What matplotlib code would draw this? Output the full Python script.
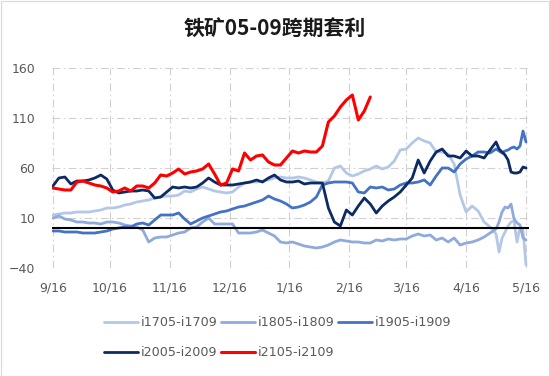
import matplotlib
matplotlib.use("Agg")
import matplotlib.pyplot as plt
from matplotlib.patches import Rectangle

# ---- data ----
title = "铁矿05-09跨期套利"
tick_pos = [0, 19, 39, 59, 79, 99, 118, 138, 158]
tick_labels = ["9/16", "10/16", "11/16", "12/16", "1/16", "2/16", "3/16", "4/16", "5/16"]
y_ticks = [-40, 10, 60, 110, 160]
days = list(range(0, 148, 2)) + list(range(148, 159))

names = ["i1705-i1709", "i1805-i1809", "i1905-i1909", "i2005-i2009", "i2105-i2109"]

i1705 = [13, 14, 15, 15, 16, 16, 16, 17, 18, 20, 20, 21, 23, 24, 26, 27, 28, 30, 31, 32,
         32, 33, 37, 36, 39, 41, 39, 37, 36, 35, 36, 41, 45, 46, 46, 47, 48, 50, 51, 50,
         50, 51, 50, 48, 46, 45, 47, 60, 62, 55, 52, 54, 57, 59, 62, 59, 61, 67, 78, 79,
         85, 90, 87, 85, 76, 76, 74, 64, 33, 16, 22, 17, 6, 1,
         -6, -24, -10, -4, 2, 6, 7, -14, 1, -2, -37]
i1805 = [10, 12, 9, 8, 6, 6, 5, 5, 4, 6, 6, 5, 3, 2, 1, -2, -14, -10, -9, -9,
         -7, -5, -4, 0, 1, 6, 10, 4, 4, 4, 4, -5, -5, -5, -4, -2, -5, -8, -14, -15,
         -14, -16, -18, -19, -20, -19, -17, -14, -12, -13, -14, -14, -15, -15, -12, -13, -11, -12, -11, -11,
         -8, -6, -8, -7, -12, -10, -14, -10, -17, -15, -14, -12, -9, -5,
         -1, 6, 16, 21, 20, 24, 9, 5, 3, -10, -12]
i1905 = [-3, -3, -4, -4, -4, -5, -5, -5, -4, -3, -1, 0, 1, 1, 4, 5, 3, 8, 13, 13,
         13, 15, 9, 4, 7, 10, 12, 14, 16, 17, 19, 21, 22, 24, 26, 28, 32, 29, 27, 24,
         20, 21, 23, 26, 31, 43, 45, 46, 46, 46, 45, 36, 35, 41, 40, 41, 38, 39, 43, 45,
         45, 46, 48, 43, 52, 60, 60, 56, 64, 69, 72, 76, 76, 75,
         79, 77, 75, 77, 78, 80, 81, 79, 82, 97, 86]
i2005 = [42, 50, 51, 44, 47, 47, 48, 50, 53, 49, 38, 35, 36, 37, 37, 38, 37, 30, 31, 36,
         41, 40, 41, 40, 41, 45, 50, 46, 43, 43, 43, 44, 45, 46, 48, 46, 50, 53, 48, 46,
         46, 47, 44, 45, 45, 45, 20, 6, 2, 18, 13, 22, 30, 24, 15, 22, 27, 31, 36, 43,
         50, 68, 55, 67, 76, 79, 72, 72, 70, 77, 72, 72, 70, 78,
         86, 79, 76, 73, 68, 56, 55, 55, 56, 61, 60]
i2105 = [40, 39, 38, 38, 46, 47, 45, 43, 42, 40, 36, 37, 40, 37, 42, 42, 40, 45, 53, 52,
         55, 59, 54, 56, 57, 59, 64, 54, 43, 45, 59, 57, 75, 68, 72, 73, 66, 63, 63, 70,
         77, 75, 77, 76, 76, 82, 106, 112, 121, 128, 133, 108, 117, 131]

series = [i1705, i1805, i1905, i2005, i2105]
colors = ["#B4C7E7", "#8FAADC", "#4472C4", "#0C2A63", "#FF0000"]
widths = [2.0, 2.0, 2.0, 2.0, 2.2]

# ---- figure ----
plt.rcParams['font.family'] = ['Noto Sans CJK SC', 'DejaVu Sans']
W, H = 550, 376
fig = plt.figure(figsize=(W / 100, H / 100), dpi=100)
fig.patches.append(Rectangle((0.5 / W, 0.5 / H), 1 - 1.5 / W, 1 - 1.5 / H, transform=fig.transFigure,
                             fill=False, edgecolor="#D9D9D9", linewidth=0.8))

left, right, top, bottom = 52, 529, 68, 268
ax = fig.add_axes([left / W, 1 - bottom / H, (right - left) / W, (bottom - top) / H])

grid_kw = dict(color="#D0D0D0", linewidth=0.8, dashes=(7, 3, 1.5, 3))
for yv in y_ticks:
    ax.axhline(yv, zorder=0, **grid_kw)
for xv in tick_pos:
    ax.axvline(xv, zorder=0, **grid_kw)

lines = []
for vals, name, c, lw in zip(series, names, colors, widths):
    ln, = ax.plot(days[:len(vals)], vals, color=c, linewidth=lw, label=name,
                  solid_joinstyle="round", solid_capstyle="round")
    lines.append(ln)

ax.axhline(0, color="black", linewidth=1.5, zorder=5)

ax.set_xlim(-0.3, 159.0)
ax.set_ylim(-40, 160)
ax.set_yticks(y_ticks)
ax.set_xticks(tick_pos)
ax.set_xticklabels(tick_labels)
ax.tick_params(axis="both", length=0, labelsize=9, colors="#595959")
ax.tick_params(axis="y", pad=12)
ax.tick_params(axis="x", pad=10)
for lab in ax.get_xticklabels() + ax.get_yticklabels():
    lab.set_family(["DejaVu Sans"])
for s in ax.spines.values():
    s.set_visible(False)

fig.text(0.5, 1 - 29 / H, title, ha="center", va="center", fontsize=15, fontweight="bold",
         color="#1A1A1A")

order = [0, 3, 1, 4, 2]
leg = fig.legend([lines[i] for i in order], [names[i] for i in order], ncol=3,
                 loc="upper left", bbox_to_anchor=(104 / W, 1 - 316 / H), frameon=False,
                 prop={"family": "DejaVu Sans", "size": 9.2}, labelcolor="#595959",
                 handlelength=2.65, handletextpad=0.25, columnspacing=0.25, labelspacing=1.35,
                 borderaxespad=0, borderpad=0)

fig.savefig("out.png", dpi=100)
